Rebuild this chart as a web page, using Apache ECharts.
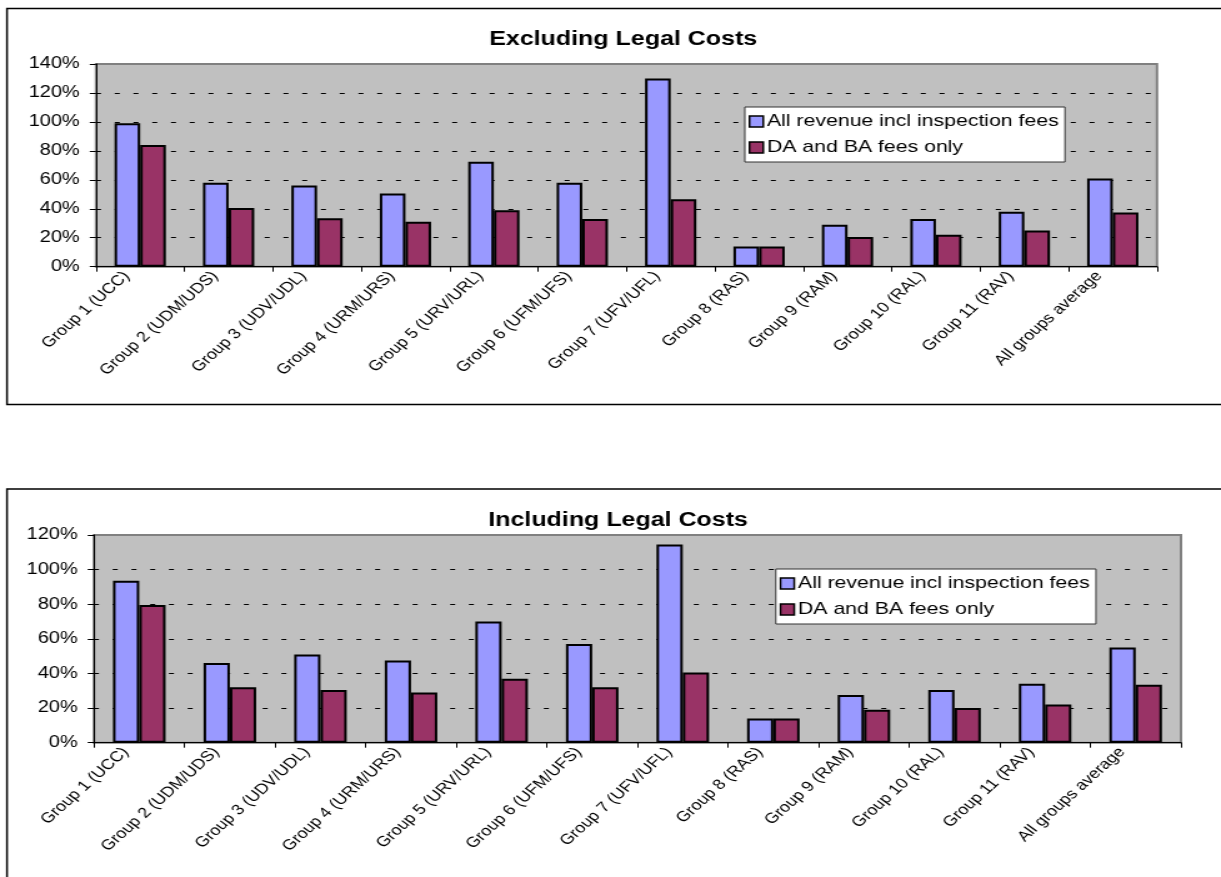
<!DOCTYPE html>
<html>
<head>
<meta charset="utf-8">
<title>Cost recovery by group</title>
<script src="https://cdn.jsdelivr.net/npm/echarts@6/dist/echarts.min.js"></script>
<style>
  html, body { margin: 0; padding: 0; background: #ffffff; overflow: hidden; }
  /* The chart is laid out on a narrower canvas and widened to the page width,
     which gives the wide, stretched lettering of the printed report. */
  #chart { width: 977px; height: 877px; transform: scaleX(1.2497); transform-origin: 0 0; }
</style>
</head>
<body>
<div id="chart"></div>
<script>
// Cost-recovery ratios (%) per group
const categories = [
  'Group 1 (UCC)', 'Group 2 (UDM/UDS)', 'Group 3 (UDV/UDL)', 'Group 4 (URM/URS)',
  'Group 5 (URV/URL)', 'Group 6 (UFM/UFS)', 'Group 7 (UFV/UFL)', 'Group 8 (RAS)',
  'Group 9 (RAM)', 'Group 10 (RAL)', 'Group 11 (RAV)', 'All groups average'
];
const seriesNames = ['All revenue incl inspection fees', 'DA and BA fees only'];
const titles = ['Excluding Legal Costs', 'Including Legal Costs'];

// Excluding legal costs
const exclAllRevenue = [99, 58, 56, 50.5, 72.5, 58, 130, 14, 29, 33, 38, 61];
const exclDaBaOnly   = [84, 40.5, 33.5, 31, 39, 33, 46.5, 14, 20.5, 22, 25, 37.5];
// Including legal costs
const inclAllRevenue = [93.5, 46, 51, 47.5, 70, 57, 114.5, 14, 27.5, 30.5, 34, 55];
const inclDaBaOnly   = [79.5, 32, 30.5, 29, 37, 32, 40.5, 14, 19, 20, 22, 33.5];

// Value axis ranges (%)
const exclAxisMax = 140;
const inclAxisMax = 120;
const axisStep = 20;

const FONT = '"Liberation Sans", Arial, sans-serif';
const BLUE = '#9999FF';
const PLUM = '#993366';

const chart = echarts.init(document.getElementById('chart'), null, { renderer: 'canvas' });

function valueAxis(gridIndex, max) {
  return {
    type: 'value', gridIndex, min: 0, max, interval: axisStep,
    axisLine: { show: true, lineStyle: { color: '#000', width: 1 } },
    axisTick: { show: true, length: 5, lineStyle: { color: '#000', width: 1 } },
    axisLabel: { formatter: '{value}%', color: '#000', fontFamily: FONT, fontSize: 16, margin: 13 },
    splitLine: {
      show: true, showMinLine: false, showMaxLine: false,
      lineStyle: { color: '#000', width: 1, type: [4, 11] }
    }
  };
}

function categoryAxis(gridIndex) {
  return {
    type: 'category', gridIndex, data: categories, boundaryGap: true,
    axisLine: { show: true, lineStyle: { color: '#000', width: 1 } },
    axisTick: { show: true, length: 5, lineStyle: { color: '#000', width: 1 } },
    axisLabel: {
      rotate: 48, interval: 0, color: '#000', fontFamily: FONT, fontSize: 14.5,
      margin: 6, verticalAlign: 'bottom', padding: [0, 8, 0, 0]
    },
    splitLine: { show: false }
  };
}

function barSeries(name, data, color, axisIndex) {
  return {
    type: 'bar', name, data,
    xAxisIndex: axisIndex, yAxisIndex: axisIndex,
    barCategoryGap: '42%', barGap: '0%',
    itemStyle: { color, borderColor: '#000', borderWidth: 2 },
    emphasis: { disabled: true },
    animation: false
  };
}

function legend(left, top, series) {
  return {
    orient: 'vertical', left, top,
    data: series,
    backgroundColor: '#ffffff', borderColor: '#333', borderWidth: 1,
    padding: [4, 5, 4, 3], itemGap: 5,
    itemWidth: 11, itemHeight: 11, icon: 'rect',
    itemStyle: { borderColor: '#000', borderWidth: 1.5 },
    textStyle: { color: '#000', fontFamily: FONT, fontSize: 17, lineHeight: 21, padding: [0, 0, 0, -2] },
    selectedMode: false
  };
}

const titleStyle = { fontFamily: FONT, fontSize: 20, fontWeight: 'bold', color: '#000' };

const option = {
  backgroundColor: '#ffffff',
  animation: false,
  textStyle: { fontFamily: FONT },
  title: [
    { text: titles[0], left: 493.7, top: 24, textAlign: 'center', textStyle: titleStyle },
    { text: titles[1], left: 489.6, top: 505, textAlign: 'center', textStyle: titleStyle }
  ],
  legend: [legend(596, 107, seriesNames), legend(620.8, 569, seriesNames)],
  grid: [
    { left: 76.8, top: 64, width: 849, height: 202.7, show: true,
      backgroundColor: '#C0C0C0', borderColor: '#808080', borderWidth: 2, containLabel: false },
    { left: 75.2, top: 535, width: 869.8, height: 207.7, show: true,
      backgroundColor: '#C0C0C0', borderColor: '#808080', borderWidth: 2, containLabel: false }
  ],
  xAxis: [categoryAxis(0), categoryAxis(1)],
  yAxis: [valueAxis(0, exclAxisMax), valueAxis(1, inclAxisMax)],
  series: [
    barSeries(seriesNames[0], exclAllRevenue, BLUE, 0),
    barSeries(seriesNames[1], exclDaBaOnly, PLUM, 0),
    barSeries(seriesNames[0], inclAllRevenue, BLUE, 1),
    barSeries(seriesNames[1], inclDaBaOnly, PLUM, 1)
  ],
  graphic: [
    // outer frames of the two chart panels (open on the right/bottom edge of the page)
    { type: 'rect', silent: true, z: -1,
      shape: { x: 5.6, y: 8.5, width: 1000, height: 396 },
      style: { fill: 'none', stroke: '#000', lineWidth: 1.5 } },
    { type: 'rect', silent: true, z: -1,
      shape: { x: 5.6, y: 489, width: 1000, height: 420 },
      style: { fill: 'none', stroke: '#000', lineWidth: 1.5 } }
  ]
};

chart.setOption(option);
</script>
</body>
</html>
